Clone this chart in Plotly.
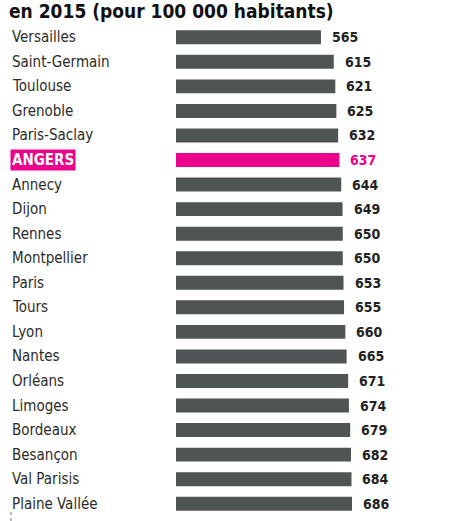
import plotly.graph_objects as go

cities = ["Versailles", "Saint-Germain", "Toulouse", "Grenoble", "Paris-Saclay", "ANGERS",
          "Annecy", "Dijon", "Rennes", "Montpellier", "Paris", "Tours", "Lyon", "Nantes",
          "Orléans", "Limoges", "Bordeaux", "Besançon", "Val Parisis", "Plaine Vallée"]
values = [565, 615, 621, 625, 632, 637, 644, 649, 650, 650, 653, 655, 660, 665,
          671, 674, 679, 682, 684, 686]
highlight = "ANGERS"
title_text = "en 2015 (pour 100 000 habitants)"

GREY = "#4f5454"
MAGENTA = "#ec008c"
FONT = "DejaVu Sans Condensed, Liberation Sans Narrow, sans-serif"

W, H = 459, 521
ML, MR, MT, MB = 176, 0, 25, 5
PW = W - ML - MR
PH = H - MT - MB
XMAX = 686 * PW / 176.0

def px_x(px):
    return (px - ML) / PW

def px_y(py):
    return (H - MB - py) / PH

colors = [MAGENTA if c == highlight else GREY for c in cities]

fig = go.Figure(go.Bar(
    x=values, y=cities, orientation="h",
    marker=dict(color=colors, line=dict(width=0)),
    hoverinfo="skip",
))

annotations = []
for c, v in zip(cities, values):
    hl = c == highlight
    annotations.append(dict(
        x=px_x(10), xref="paper", y=c, yref="y", xanchor="left", yanchor="middle",
        text=("<b>%s</b>" % c) if hl else c, showarrow=False,
        font=dict(family=FONT, size=15, color="white" if hl else "#2b2b2b"),
        bgcolor=MAGENTA if hl else None, borderpad=1,
    ))
    annotations.append(dict(
        x=v, xref="x", y=c, yref="y", xanchor="left", yanchor="middle",
        xshift=9, showarrow=False, text="<b>%d</b>" % v,
        font=dict(family=FONT, size=14, color=MAGENTA if hl else "#222222"),
    ))

annotations.append(dict(
    x=px_x(8), xref="paper", y=px_y(23), yref="paper", xanchor="left", yanchor="bottom",
    text="<b>%s</b>" % title_text, showarrow=False,
    font=dict(family=FONT, size=19, color="#111111"), borderpad=0,
))

shapes = [dict(type="line", xref="paper", yref="paper",
               x0=px_x(11), x1=px_x(11), y0=px_y(512), y1=px_y(521),
               line=dict(color="#777777", width=1, dash="dot"))]

fig.update_layout(
    width=W, height=H,
    margin=dict(l=ML, r=MR, t=MT, b=MB, pad=0),
    paper_bgcolor="white", plot_bgcolor="white",
    showlegend=False,
    bargap=0.43,
    xaxis=dict(range=[0, XMAX], visible=False, fixedrange=True),
    yaxis=dict(autorange="reversed", visible=False, fixedrange=True),
    annotations=annotations,
    shapes=shapes,
)

fig.write_html("out.html", config={"displayModeBar": False, "staticPlot": True},
               post_script="document.body.style.margin='0';document.body.style.overflow='hidden';")
